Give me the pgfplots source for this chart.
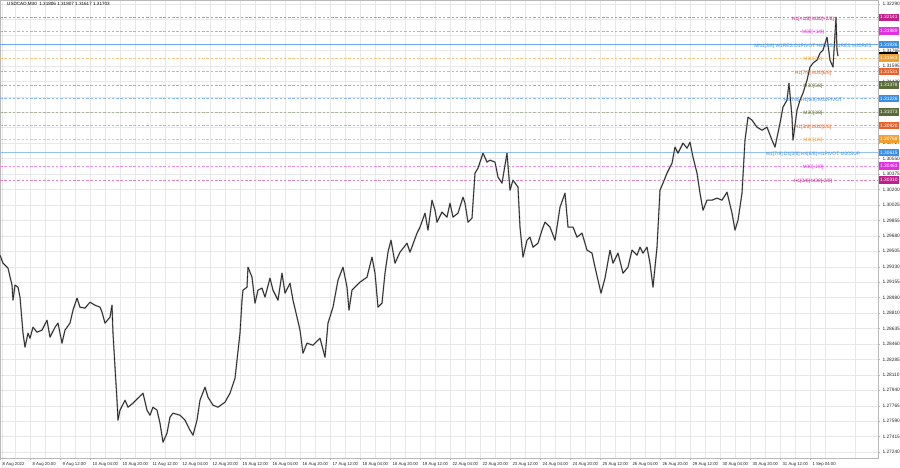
\documentclass[border=0pt]{standalone}
\usepackage{pgfplots}
\pgfplotsset{compat=1.18}
\usepackage{fontspec}
\setmainfont{Liberation Sans}
\definecolor{lvdm}{HTML}{C0208C}
\definecolor{lvm}{HTML}{E030E0}
\definecolor{lvb}{HTML}{3A8EE6}
\definecolor{lvo}{HTML}{F0A030}
\definecolor{lvr}{HTML}{E8602A}
\definecolor{lvg}{HTML}{5A6B3A}
\definecolor{gridc}{HTML}{E8E8E8}
\newcommand{\lvfont}{\fontsize{4.9}{5.5}\selectfont}
\pgfplotstableread{
x y
0 1.29460
3 1.29370
8 1.29314
12 1.29122
13 1.28953
15 1.29122
18 1.29099
20 1.28987
23 1.28581
25 1.28423
28 1.28581
30 1.28524
33 1.28648
37 1.28592
42 1.28615
47 1.28727
50 1.28536
55 1.28648
58 1.28694
62 1.28468
65 1.28615
70 1.28694
73 1.28840
77 1.28975
80 1.28874
85 1.28863
90 1.28930
95 1.28896
100 1.28874
102 1.28818
105 1.28694
110 1.28761
112 1.28896
113 1.28581
115 1.28197
117 1.27825
118 1.27600
120 1.27713
125 1.27825
128 1.27746
133 1.27792
138 1.27848
143 1.27904
147 1.27713
150 1.27656
153 1.27746
157 1.27713
160 1.27566
163 1.27352
167 1.27453
170 1.27634
173 1.27679
180 1.27656
185 1.27600
190 1.27487
193 1.27431
197 1.27600
200 1.27825
205 1.27972
208 1.27859
213 1.27769
218 1.27746
225 1.27803
230 1.27904
235 1.28073
240 1.28581
242 1.28953
243 1.29066
247 1.29099
248 1.29325
252 1.29212
255 1.28919
258 1.29066
262 1.29088
265 1.28987
270 1.29201
273 1.29066
278 1.28953
282 1.29257
285 1.29032
290 1.29144
293 1.28953
297 1.28761
300 1.28615
303 1.28355
307 1.28468
313 1.28445
320 1.28524
325 1.28310
328 1.28694
333 1.28874
338 1.29178
343 1.29325
347 1.29099
349 1.28840
352 1.29066
360 1.29156
367 1.29212
372 1.29438
375 1.29257
378 1.28874
382 1.28919
385 1.29257
388 1.29494
391 1.29629
395 1.29370
400 1.29494
407 1.29595
410 1.29494
417 1.29708
420 1.29776
425 1.29934
428 1.29742
432 1.30080
435 1.29967
437 1.29832
442 1.29945
447 1.29889
450 1.30046
453 1.29889
458 1.29934
463 1.30114
465 1.30046
468 1.29832
472 1.29877
475 1.30385
478 1.30441
483 1.30610
487 1.30509
490 1.30531
495 1.30509
498 1.30340
502 1.30272
507 1.30610
510 1.30193
513 1.30306
518 1.30227
520 1.29776
523 1.29438
527 1.29629
530 1.29663
533 1.29550
538 1.29595
542 1.29742
545 1.29832
550 1.29776
555 1.29629
560 1.30001
565 1.30159
568 1.29776
573 1.29776
577 1.29663
582 1.29708
587 1.29517
592 1.29483
595 1.29325
598 1.29178
601 1.29032
605 1.29201
610 1.29517
613 1.29370
618 1.29483
623 1.29257
628 1.29325
632 1.29517
637 1.29460
640 1.29550
643 1.29483
647 1.29550
650 1.29370
653 1.29099
657 1.29550
660 1.30193
663 1.30272
667 1.30385
672 1.30497
675 1.30678
678 1.30610
683 1.30723
687 1.30666
690 1.30734
693 1.30565
697 1.30385
700 1.30159
703 1.29967
707 1.30080
712 1.30080
717 1.30103
722 1.30080
727 1.30170
732 1.29934
735 1.29742
738 1.29855
742 1.30159
745 1.30757
748 1.31016
752 1.30982
757 1.30903
762 1.30869
767 1.30903
772 1.30757
775 1.30678
780 1.30948
783 1.31129
787 1.31208
789 1.31399
792 1.31016
793 1.30757
797 1.31095
800 1.31208
803 1.31287
807 1.31433
810 1.31580
813 1.31625
817 1.31659
820 1.31737
823 1.31771
827 1.31918
830 1.31659
833 1.31580
836 1.32143
837 1.31771
838 1.31704
}\pricetable
\begin{document}
\begin{tikzpicture}
\begin{axis}[
  at={(0,0)}, anchor=south west,
  width=878pt, height=458pt, scale only axis,
  xmin=0, xmax=878, ymin=1.27172, ymax=1.32335,
  clip mode=individual,
  axis line style={draw=gray!55},
  grid=both, major grid style={draw=gridc, line width=0.4pt}, minor grid style={draw=gridc, line width=0.4pt},
  xtick={0,30,...,810},
  minor xtick={15,45,...,870},
  xticklabels={8 Aug 2022,8 Aug 20:00,9 Aug 12:00,10 Aug 04:00,10 Aug 20:00,11 Aug 12:00,12 Aug 04:00,12 Aug 20:00,15 Aug 12:00,16 Aug 04:00,16 Aug 20:00,17 Aug 12:00,18 Aug 04:00,18 Aug 20:00,19 Aug 12:00,22 Aug 04:00,22 Aug 20:00,23 Aug 12:00,24 Aug 04:00,24 Aug 20:00,25 Aug 12:00,26 Aug 04:00,26 Aug 20:00,29 Aug 12:00,30 Aug 04:00,30 Aug 20:00,31 Aug 12:00,1 Sep 04:00},
  xticklabel style={font=\fontsize{4.3}{5}\selectfont, anchor=north west, xshift=-1pt, yshift=1pt, text=black!85},
  ytick={1.32290,1.32116,1.31942,1.31768,1.31593,1.31419,1.31245,1.31071,1.30897,1.30723,1.30549,1.30375,1.30201,1.30026,1.29852,1.29678,1.29504,1.29330,1.29156,1.28982,1.28808,1.28633,1.28459,1.28285,1.28111,1.27937,1.27763,1.27589,1.27415,1.27240},
  yticklabels={1.32290,,,1.31765,1.31595,1.31420,,,,1.30727,1.30550,1.30375,1.30200,1.30025,1.29855,1.29680,1.29505,1.29330,1.29155,1.28980,1.28810,1.28635,1.28460,1.28285,1.28110,1.27940,1.27765,1.27590,1.27415,1.27240},
  yticklabel pos=right,
  yticklabel style={font=\fontsize{4.8}{5.5}\selectfont, anchor=west, xshift=-1pt, text=black!85},
  tick style={draw=gray!60}, tick align=outside, major tick length=2pt, minor tick length=0pt,
  lvl/.style={dash pattern=on 2.5pt off 1.8pt, line width=0.4pt},
]
% level lines
\addplot[lvdm!55, lvl] coordinates {(0,1.32141) (878,1.32141)};
\addplot[lvm!55, lvl] coordinates {(0,1.31989) (878,1.31989)};
\addplot[lvb!75, line width=0.6pt] coordinates {(0,1.31836) (878,1.31836)};
\addplot[lvo!60, lvl] coordinates {(0,1.31683) (878,1.31683)};
\addplot[lvr!55, lvl] coordinates {(0,1.31531) (878,1.31531)};
\addplot[lvg!50, lvl] coordinates {(0,1.31378) (878,1.31378)};
\addplot[lvb!60, lvl] coordinates {(0,1.31226) (878,1.31226)};
\addplot[lvg!50, lvl] coordinates {(0,1.31073) (878,1.31073)};
\addplot[lvr!55, lvl] coordinates {(0,1.30920) (878,1.30920)};
\addplot[lvo!60, lvl] coordinates {(0,1.30768) (878,1.30768)};
\addplot[lvb!55, line width=0.6pt] coordinates {(0,1.30615) (878,1.30615)};
\addplot[lvm!55, lvl] coordinates {(0,1.30463) (878,1.30463)};
\addplot[lvdm!55, lvl] coordinates {(0,1.30310) (878,1.30310)};
% level labels
\node[font=\lvfont, text=lvdm, yshift=-1.5pt] at (axis cs:813,1.32141) {H1[+1/8] M30[+2/8]};
\node[font=\lvfont, text=lvm, yshift=-1.5pt] at (axis cs:813,1.31989) {M30[+1/8]};
\node[font=\lvfont, text=lvb, yshift=-1.5pt] at (axis cs:813,1.31836) {MN1[3/8] W1RES D1PIVOT H4RES H1RES M30RES};
\node[font=\lvfont, text=lvo, yshift=-1.5pt] at (axis cs:813,1.31683) {M30[7/8]};
\node[font=\lvfont, text=lvr, yshift=-1.5pt] at (axis cs:813,1.31531) {H1[7/8] M30[6/8]};
\node[font=\lvfont, text=lvg, yshift=-1.5pt] at (axis cs:813,1.31378) {M30[5/8]};
\node[font=\lvfont, text=lvb, yshift=-1.5pt] at (axis cs:813,1.31226) {H4[7/8] H1[6/8] M30PIVOT};
\node[font=\lvfont, text=lvg, yshift=-1.5pt] at (axis cs:813,1.31073) {M30[3/8]};
\node[font=\lvfont, text=lvr, yshift=-1.5pt] at (axis cs:813,1.30920) {H1[5/8] M30[2/8]};
\node[font=\lvfont, text=lvo, yshift=-1.5pt] at (axis cs:813,1.30768) {M30[1/8]};
\node[font=\lvfont, text=lvb, yshift=-1.5pt] at (axis cs:813,1.30615) {W1[7/8] D1[3/8] H4[6/8] H1PIVOT M30SUP};
\node[font=\lvfont, text=lvm, yshift=-1.5pt] at (axis cs:813,1.30463) {M30[-1/8]};
\node[font=\lvfont, text=lvdm, yshift=-1.5pt] at (axis cs:813,1.30310) {H1[3/8] M30[-2/8]};
% price series, candle spread as grey underlay
\addplot[black!40, line width=1.5pt, line join=round] table {\pricetable};
\addplot[black!90, line width=0.6pt, line join=round] table {\pricetable};
% price tags on the right scale
\tikzset{tag/.style={anchor=west, font=\fontsize{4.8}{5.5}\selectfont, text=white, inner xsep=1pt, inner ysep=0.8pt, minimum height=7.5pt, xshift=1pt}}
\node[tag, fill=lvdm] at (axis cs:878,1.32141) {1.32141};
\node[tag, fill=lvm] at (axis cs:878,1.31989) {1.31989};
\node[tag, fill=lvb] at (axis cs:878,1.31836) {1.31836};
\node[anchor=west, fill=black, inner sep=0pt, minimum width=19pt, minimum height=3.5pt, xshift=1pt] at (axis cs:878,1.31728) {};
\node[tag, fill=lvo] at (axis cs:878,1.31683) {1.31683};
\node[tag, fill=lvr] at (axis cs:878,1.31531) {1.31531};
\node[tag, fill=lvg] at (axis cs:878,1.31378) {1.31378};
\node[tag, fill=lvb] at (axis cs:878,1.31226) {1.31226};
\node[tag, fill=lvg] at (axis cs:878,1.31073) {1.31073};
\node[tag, fill=lvr] at (axis cs:878,1.30920) {1.30920};
\node[tag, fill=lvo] at (axis cs:878,1.30768) {1.30768};
\node[tag, fill=lvb] at (axis cs:878,1.30615) {1.30615};
\node[tag, fill=lvm] at (axis cs:878,1.30463) {1.30463};
\node[tag, fill=lvdm] at (axis cs:878,1.30310) {1.30310};
% header
\fill[black!70] ([xshift=2pt,yshift=-3pt]rel axis cs:0,1) -- ++(3.5pt,0) -- ++(-1.75pt,-2.5pt) -- cycle;
\node[anchor=west, font=\fontsize{4.6}{5.5}\selectfont, inner sep=0pt] at ([xshift=7pt,yshift=-4.5pt]rel axis cs:0,1) {USDCAD,M30\ \ 1.31806 1.31807 1.31617 1.31703};
\end{axis}
\pgfresetboundingbox
\useasboundingbox (0pt,-10pt) rectangle (900pt,458pt);
\end{tikzpicture}
\end{document}
